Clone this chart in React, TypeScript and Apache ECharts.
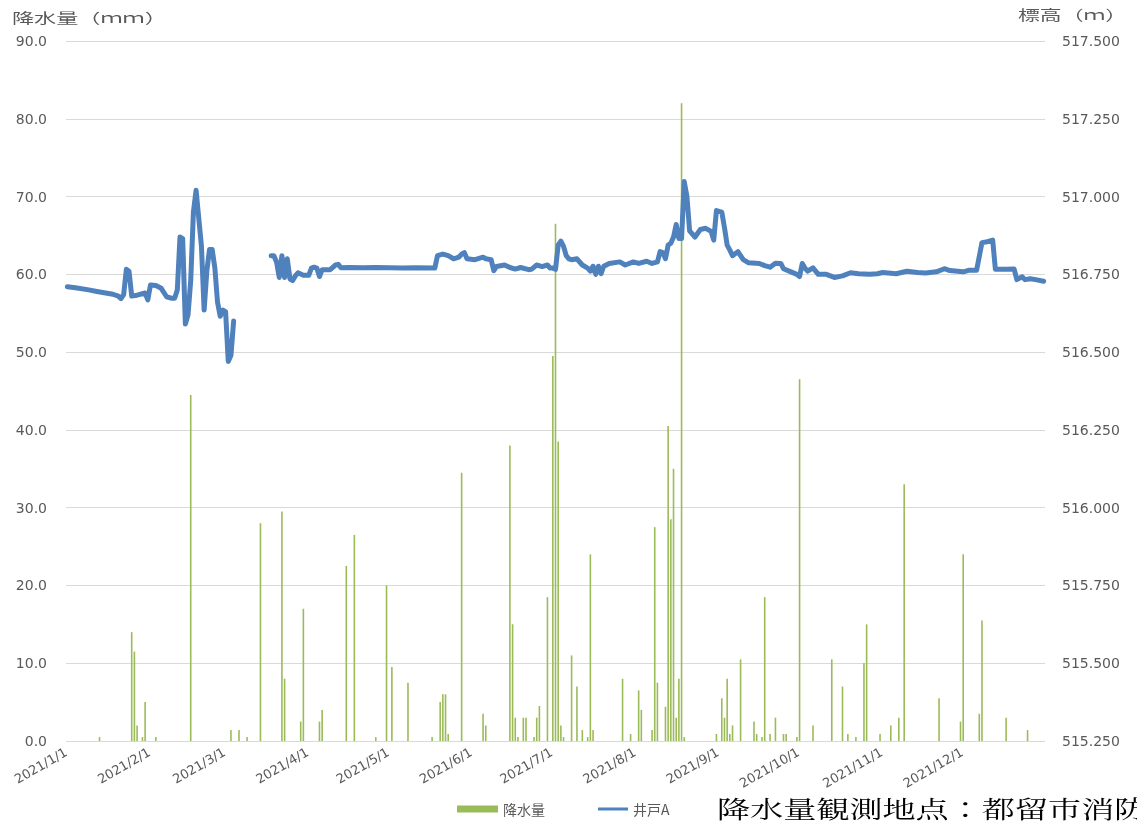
import React, { useEffect, useRef } from 'react';
import * as echarts from 'echarts';

// X axis: day index since 2021/1/1 (0-based); month tick labels
const monthLabels = ['2021/1/1', '2021/2/1', '2021/3/1', '2021/4/1', '2021/5/1', '2021/6/1', '2021/7/1', '2021/8/1', '2021/9/1', '2021/10/1', '2021/11/1', '2021/12/1'];
const monthStartIndex = [0, 31, 59, 90, 120, 151, 181, 212, 243, 273, 304, 334];

// Daily precipitation (mm) on rainy days
const rainDayIndex = [12, 24, 25, 26, 28, 29, 33, 46, 61, 64, 67, 72, 80, 81, 87, 88, 94, 95, 104, 107, 115, 119, 121, 127, 136, 139, 140, 141, 142, 147, 155, 156, 165, 166, 167, 168, 170, 171, 174, 175, 176, 179, 181, 182, 183, 184, 185, 188, 190, 192, 194, 195, 196, 207, 210, 213, 214, 218, 219, 220, 223, 224, 225, 226, 227, 228, 229, 230, 242, 244, 245, 246, 247, 248, 251, 256, 257, 259, 260, 262, 264, 267, 268, 272, 273, 278, 285, 289, 291, 294, 297, 298, 303, 307, 310, 312, 325, 333, 334, 340, 341, 350, 358];
const rainMm = [0.5, 14.0, 11.5, 2.0, 0.5, 5.0, 0.5, 44.5, 1.4, 1.4, 0.5, 28.0, 29.5, 8.0, 2.5, 17.0, 2.5, 4.0, 22.5, 26.5, 0.5, 20.0, 9.5, 7.5, 0.5, 5.0, 6.0, 6.0, 0.9, 34.5, 3.5, 2.0, 38.0, 15.0, 3.0, 0.5, 3.0, 3.0, 0.5, 3.0, 4.5, 18.5, 49.5, 66.5, 38.5, 2.0, 0.5, 11.0, 7.0, 1.4, 0.5, 24.0, 1.4, 8.0, 0.9, 6.5, 4.0, 1.4, 27.5, 7.5, 4.4, 40.5, 28.5, 35.0, 3.0, 8.0, 82.0, 0.5, 0.9, 5.5, 3.0, 8.0, 0.9, 2.0, 10.5, 2.5, 0.9, 0.5, 18.5, 0.9, 3.0, 0.9, 0.9, 0.5, 46.5, 2.0, 10.5, 7.0, 0.9, 0.5, 10.0, 15.0, 0.9, 2.0, 3.0, 33.0, 5.5, 2.5, 24.0, 3.5, 15.5, 3.0, 1.4];

// Well A groundwater elevation (m); null = missing record
const wellDayIndex = [0, 3, 8, 11, 17, 19, 20, 21, 22, 23, 24, 26, 29, 30, 31, 33, 35, 37, 39, 40, 41, 42, 43, 44, 45, 46, 47, 48, 49, 50, 51, 52, 53, 54, 55, 56, 57, 58, 59, 60, 61, 62, 70,
  76, 77, 78, 79, 80, 81, 82, 83, 84, 85, 86, 88, 90, 91, 92, 93, 94, 95, 98, 100, 101, 102, 105, 110, 115, 120, 125, 130, 137, 138, 140, 142, 144, 146, 147, 148, 149, 152, 155, 156, 158, 159, 160, 163, 165, 167, 169, 172,
  173, 175, 177, 179, 180, 181, 182, 183, 184, 185, 186, 187, 188, 190, 192, 194, 195, 196, 197, 198, 199, 200, 202, 206, 208, 211, 213, 216, 218, 220, 221, 222, 223, 224, 225, 226, 227, 228, 229, 230, 231, 232, 234, 236, 238, 240, 241, 242, 244, 245, 246, 247, 248, 250, 252,
  254, 258, 260, 262, 264, 266, 267, 270, 272, 273, 274, 275, 276, 278, 280, 283, 286, 289, 292, 295, 299, 302, 304, 309, 313, 317, 320, 324, 327, 329, 334, 336, 339, 341, 343, 345, 346, 350, 353, 354, 356, 357, 359, 361, 364];
const wellLevel = [516.71, 516.707, 516.70, 516.695, 516.686, 516.68, 516.672, 516.685, 516.766, 516.76, 516.68, 516.683, 516.69, 516.668, 516.716, 516.714, 516.705, 516.678, 516.673, 516.673, 516.70, 516.87, 516.865, 516.59, 516.62, 516.73, 516.95, 517.02, 516.93, 516.84, 516.635, 516.76, 516.83, 516.83, 516.77, 516.66, 516.615, 516.635, 516.63, 516.47, 516.49, 516.60, null,
  516.81, 516.81, 516.79, 516.74, 516.81, 516.74, 516.80, 516.735, 516.73, 516.745, 516.755, 516.747, 516.747, 516.77, 516.773, 516.77, 516.743, 516.765, 516.765, 516.78, 516.782, 516.771, 516.772, 516.771, 516.772, 516.771, 516.770, 516.771, 516.77, 516.81, 516.815, 516.81, 516.80, 516.805, 516.815, 516.82, 516.80, 516.797, 516.805, 516.80, 516.797, 516.762, 516.775, 516.78, 516.772, 516.767, 516.772, 516.765,
  516.766, 516.78, 516.775, 516.78, 516.77, 516.77, 516.766, 516.844, 516.857, 516.84, 516.81, 516.80, 516.797, 516.80, 516.78, 516.77, 516.76, 516.776, 516.75, 516.776, 516.752, 516.776, 516.785, 516.79, 516.78, 516.79, 516.785, 516.792, 516.785, 516.79, 516.823, 516.82, 516.80, 516.844, 516.85, 516.87, 516.91, 516.865, 516.865, 517.048, 517.0, 516.89, 516.87, 516.894, 516.898, 516.888, 516.86, 516.955, 516.95, 516.90, 516.844, 516.828, 516.81, 516.823, 516.797,
  516.787, 516.785, 516.778, 516.773, 516.786, 516.785, 516.768, 516.757, 516.75, 516.743, 516.785, 516.77, 516.76, 516.771, 516.75, 516.75, 516.74, 516.745, 516.755, 516.752, 516.75, 516.752, 516.756, 516.752, 516.76, 516.756, 516.754, 516.758, 516.768, 516.762, 516.758, 516.763, 516.763, 516.852, 516.855, 516.86, 516.766, 516.766, 516.767, 516.733, 516.742, 516.733, 516.736, 516.733, 516.728];

const GRAY = '#595959';
const BLUE = '#4F81BD';
const GREEN = '#9BBB59';
const NUM_FONT = "'DejaVu Sans', sans-serif";
const JP_FONT = "'Noto Sans CJK JP', sans-serif";

export default function App() {
  const ref = useRef<HTMLDivElement>(null);
  useEffect(() => {
    if (!ref.current) return;
    const chart = echarts.init(ref.current, null, { renderer: 'svg' });
    const option = {
      animation: false,
      textStyle: { fontFamily: JP_FONT },
      grid: { left: 66, right: 92, top: 41, bottom: 80, containLabel: false },
      xAxis: {
        type: 'value',
        min: 0,
        max: 365,
        axisLine: { show: false },
        axisTick: { show: false },
        splitLine: { show: false },
        axisLabel: {
          customValues: monthStartIndex,
          formatter: (v: number) => monthLabels[monthStartIndex.indexOf(Math.round(v))] ?? '',
          rotate: 30,
          color: GRAY,
          fontSize: 13,
          fontFamily: NUM_FONT,
          margin: 10,
        },
      },
      yAxis: [
        {
          type: 'value',
          min: 0,
          max: 90,
          interval: 10,
          axisLine: { show: false },
          axisTick: { show: false },
          splitLine: { show: true, lineStyle: { color: '#D9D9D9', width: 1 } },
          axisLabel: { formatter: (v: number) => v.toFixed(1), color: GRAY, fontSize: 14, fontFamily: NUM_FONT, margin: 19 },
        },
        {
          type: 'value',
          position: 'right',
          min: 515.25,
          max: 517.5,
          interval: 0.25,
          axisLine: { show: false },
          axisTick: { show: false },
          splitLine: { show: false },
          axisLabel: { formatter: (v: number) => v.toFixed(3), color: GRAY, fontSize: 14, fontFamily: NUM_FONT, margin: 17 },
        },
      ],
      legend: [
        {
          left: 452,
          top: 797,
          itemWidth: 41,
          itemHeight: 7,
          itemGap: 0,
          textStyle: { color: GRAY, fontSize: 14, fontFamily: JP_FONT },
          data: [{ name: '降水量', icon: 'rect' }],
        },
        {
          left: 593,
          top: 797,
          itemWidth: 30,
          itemHeight: 3,
          itemGap: 0,
          textStyle: { color: GRAY, fontSize: 14, fontFamily: JP_FONT },
          data: [{ name: '井戸A', icon: 'rect', itemStyle: { color: BLUE } }],
        },
      ],
      series: [
        {
          name: '降水量',
          type: 'bar',
          yAxisIndex: 0,
          barWidth: 1.6,
          itemStyle: { color: GREEN },
          data: rainDayIndex.map((d, i) => [d + 0.5, rainMm[i]]),
          z: 2,
        },
        {
          name: '井戸A',
          type: 'line',
          yAxisIndex: 1,
          symbol: 'none',
          showSymbol: false,
          connectNulls: false,
          lineStyle: { color: BLUE, width: 5, join: 'round', cap: 'round' },
          itemStyle: { color: BLUE },
          data: wellDayIndex.map((d, i) => [d + 0.5, wellLevel[i] === null ? '-' : wellLevel[i]]),
          z: 3,
        },
      ],
      graphic: [
        {
          type: 'text',
          x: 12,
          y: 10,
          scaleX: 1.58,
          style: { text: '降水量（ｍｍ）', fill: GRAY, fontSize: 14, fontFamily: JP_FONT, textVerticalAlign: 'top' },
        },
        {
          type: 'text',
          x: 1018,
          y: 7,
          scaleX: 1.56,
          style: { text: '標高（ｍ）', fill: GRAY, fontSize: 14, fontFamily: JP_FONT, textVerticalAlign: 'top' },
        },
        {
          type: 'text',
          x: 717,
          y: 796,
          scaleX: 1.38,
          style: { text: '降水量観測地点：都留市消防署', fill: '#000', fontSize: 24, fontFamily: "'Noto Serif CJK JP', serif", textVerticalAlign: 'top' },
        },
      ],
    };
    chart.setOption(option as any);
    return () => chart.dispose();
  }, []);
  return <div ref={ref} style={{ position: 'fixed', left: 0, top: 0, width: 1137, height: 821 }} />;
}
